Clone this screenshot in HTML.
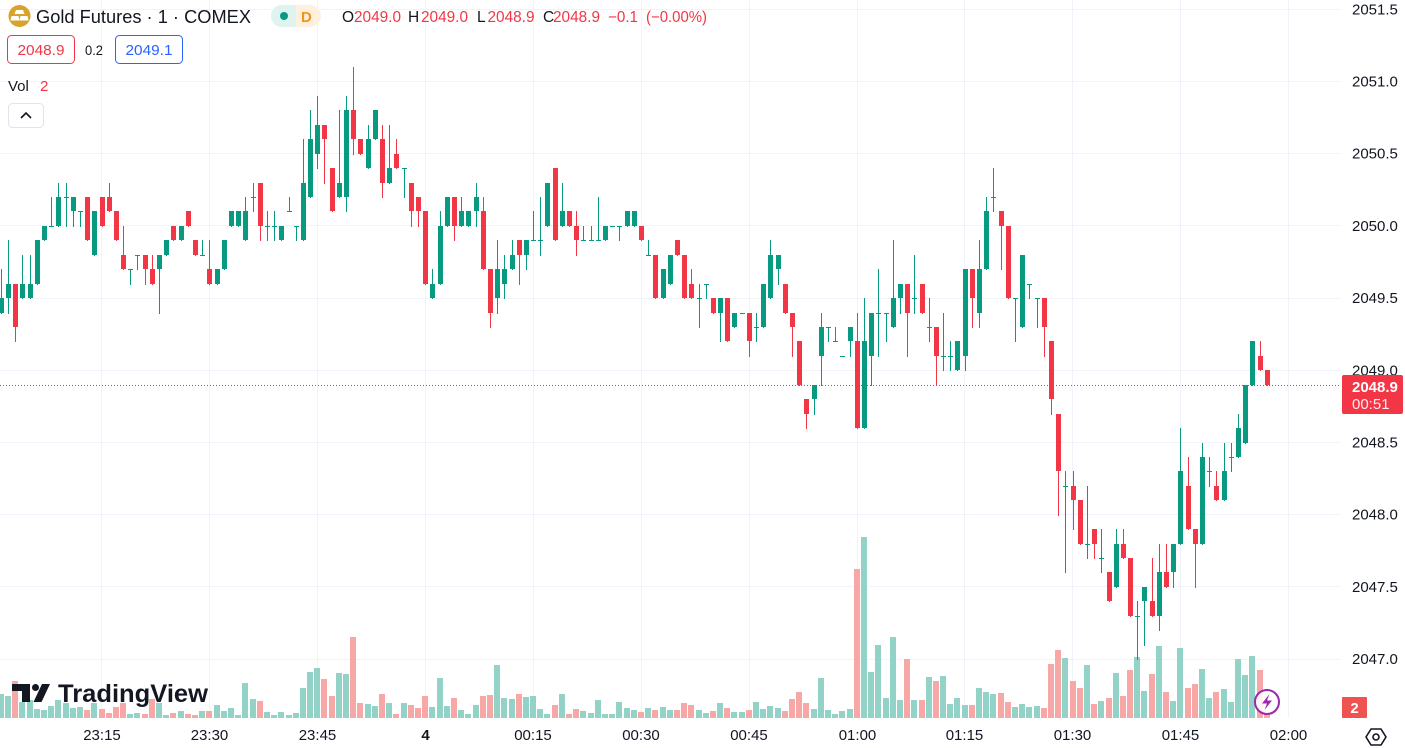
<!DOCTYPE html>
<html>
<head>
<meta charset="utf-8">
<style>
  html,body{margin:0;padding:0;background:#fff;}
  body{width:1405px;height:748px;overflow:hidden;}
  svg{display:block;font-family:"Liberation Sans",sans-serif;}
  .ax{font-size:15px;fill:#131722;}
  .tm{font-size:15px;fill:#131722;text-anchor:middle;}
</style>
</head>
<body>
<svg id="chart" width="1405" height="748" viewBox="0 0 1405 748" xmlns="http://www.w3.org/2000/svg">
  <rect x="0" y="0" width="1405" height="748" fill="#ffffff"/>
  <!-- horizontal grid -->
  <g stroke="#f0f3fa" stroke-width="1">
    <line x1="0" y1="9.5" x2="1341" y2="9.5"/>
    <line x1="0" y1="81.5" x2="1341" y2="81.5"/>
    <line x1="0" y1="153.5" x2="1341" y2="153.5"/>
    <line x1="0" y1="225.5" x2="1341" y2="225.5"/>
    <line x1="0" y1="298.5" x2="1341" y2="298.5"/>
    <line x1="0" y1="370.5" x2="1341" y2="370.5"/>
    <line x1="0" y1="442.5" x2="1341" y2="442.5"/>
    <line x1="0" y1="514.5" x2="1341" y2="514.5"/>
    <line x1="0" y1="586.5" x2="1341" y2="586.5"/>
    <line x1="0" y1="659.5" x2="1341" y2="659.5"/>
  </g>
  <!-- vertical grid -->
  <g stroke="#f0f3fa" stroke-width="1">
    <line x1="101.5" y1="0" x2="101.5" y2="718"/>
    <line x1="209.5" y1="0" x2="209.5" y2="718"/>
    <line x1="317.5" y1="0" x2="317.5" y2="718"/>
    <line x1="425.5" y1="0" x2="425.5" y2="718"/>
    <line x1="533.5" y1="0" x2="533.5" y2="718"/>
    <line x1="641.5" y1="0" x2="641.5" y2="718"/>
    <line x1="749.5" y1="0" x2="749.5" y2="718"/>
    <line x1="857.5" y1="0" x2="857.5" y2="718"/>
    <line x1="964.5" y1="0" x2="964.5" y2="718"/>
    <line x1="1072.5" y1="0" x2="1072.5" y2="718"/>
    <line x1="1180.5" y1="0" x2="1180.5" y2="718"/>
    <line x1="1288.5" y1="0" x2="1288.5" y2="718"/>
  </g>

  <g id="vol"></g>
  <g id="cdl"></g>

  <!-- current price dotted line -->
  <line x1="0" y1="385.5" x2="1341" y2="385.5" stroke="#f23645" stroke-width="1" stroke-dasharray="1,2"/>

  <!-- header -->
  <circle cx="19.5" cy="16" r="11" fill="#d9a32b"/>
  <g fill="#ffffff">
    <polygon points="16,10 23,10 24.5,14 14.5,14"/>
    <polygon points="11.5,16 18.5,16 19.5,20.5 10.5,20.5"/>
    <polygon points="20.5,16 27.5,16 28.5,20.5 19.5,20.5"/>
  </g>
  <text x="36" y="23" font-size="18.5" fill="#131722" textLength="215" lengthAdjust="spacingAndGlyphs">Gold Futures · 1 · COMEX</text>

  <rect x="271" y="5" width="50" height="22" rx="11" fill="#fdf0dc"/>
  <path d="M282,5 H296 V27 H282 A11,11 0 0 1 282,5 Z" fill="#dff3ef"/>
  <circle cx="284" cy="16" r="4" fill="#089981"/>
  <text x="301" y="22" font-size="15" font-weight="bold" fill="#f5921b">D</text>

  <g font-size="15.5">
    <text x="342" y="22" fill="#131722">O</text>
    <text x="354" y="22" fill="#f23645" textLength="47" lengthAdjust="spacingAndGlyphs">2049.0</text>
    <text x="408" y="22" fill="#131722">H</text>
    <text x="421" y="22" fill="#f23645" textLength="47" lengthAdjust="spacingAndGlyphs">2049.0</text>
    <text x="477" y="22" fill="#131722">L</text>
    <text x="487.5" y="22" fill="#f23645" textLength="47" lengthAdjust="spacingAndGlyphs">2048.9</text>
    <text x="543" y="22" fill="#131722">C</text>
    <text x="553" y="22" fill="#f23645" textLength="47" lengthAdjust="spacingAndGlyphs">2048.9</text>
    <text x="608" y="22" fill="#f23645" textLength="30" lengthAdjust="spacingAndGlyphs">−0.1</text>
    <text x="646" y="22" fill="#f23645" textLength="61" lengthAdjust="spacingAndGlyphs">(−0.00%)</text>
  </g>

  <rect x="7.5" y="35.5" width="67" height="28" rx="4" fill="#ffffff" stroke="#f23645" stroke-width="1"/>
  <text x="41" y="55" font-size="15" fill="#f23645" text-anchor="middle" textLength="47" lengthAdjust="spacingAndGlyphs">2048.9</text>
  <text x="85" y="55" font-size="14" fill="#131722" textLength="18" lengthAdjust="spacingAndGlyphs">0.2</text>
  <rect x="115.5" y="35.5" width="67" height="28" rx="4" fill="#ffffff" stroke="#2962ff" stroke-width="1"/>
  <text x="149" y="55" font-size="15" fill="#2962ff" text-anchor="middle" textLength="47" lengthAdjust="spacingAndGlyphs">2049.1</text>

  <text x="8" y="91" font-size="15" fill="#131722">Vol</text>
  <text x="40" y="91" font-size="15" fill="#f23645">2</text>

  <rect x="8.5" y="103.5" width="35" height="24" rx="4" fill="#ffffff" stroke="#e0e3eb" stroke-width="1"/>
  <polyline points="21,118 26,113 31,118" fill="none" stroke="#131722" stroke-width="1.6"/>

  <!-- TradingView logo -->
  <g fill="#131722">
    <polygon points="12,684 30,684 30,702 22,702 22,691 12,691"/>
    <circle cx="35.5" cy="687.5" r="3.5"/>
    <polygon points="33.5,702 41.5,702 50,684 42,684"/>
  </g>
  <text x="58" y="702" font-size="25" font-weight="bold" fill="#131722" textLength="150" lengthAdjust="spacingAndGlyphs">TradingView</text>

  <!-- lightning icon -->
  <circle cx="1267" cy="702" r="12" fill="#ffffff" fill-opacity="0.85" stroke="#9c27b0" stroke-width="2"/>
  <polygon points="1269.5,694 1262,703.5 1267,703.5 1264.5,710 1272,700.5 1267,700.5" fill="#9c27b0"/>

  <!-- price axis labels -->
  <g class="ax">
    <text x="1352" y="14.5">2051.5</text>
    <text x="1352" y="86.5">2051.0</text>
    <text x="1352" y="158.5">2050.5</text>
    <text x="1352" y="231">2050.0</text>
    <text x="1352" y="303">2049.5</text>
    <text x="1352" y="375.5">2049.0</text>
    <text x="1352" y="447.5">2048.5</text>
    <text x="1352" y="519.5">2048.0</text>
    <text x="1352" y="592">2047.5</text>
    <text x="1352" y="664">2047.0</text>
  </g>

  <!-- current price label -->
  <rect x="1342" y="375" width="61" height="39" rx="2" fill="#f23645"/>
  <text x="1352" y="392" font-size="15" font-weight="bold" fill="#ffffff">2048.9</text>
  <text x="1352" y="409" font-size="15" fill="#ffffff" fill-opacity="0.9">00:51</text>

  <!-- volume label -->
  <rect x="1342" y="697" width="25" height="21" rx="1" fill="#ef5350"/>
  <text x="1354.5" y="713" font-size="15" font-weight="bold" fill="#ffffff" text-anchor="middle">2</text>

  <!-- time axis -->
  <g class="tm">
    <text x="102" y="740">23:15</text>
    <text x="209.5" y="740">23:30</text>
    <text x="317.5" y="740">23:45</text>
    <text x="425.5" y="740" font-weight="bold">4</text>
    <text x="533" y="740">00:15</text>
    <text x="641" y="740">00:30</text>
    <text x="749" y="740">00:45</text>
    <text x="857.5" y="740">01:00</text>
    <text x="964.5" y="740">01:15</text>
    <text x="1072.5" y="740">01:30</text>
    <text x="1180.5" y="740">01:45</text>
    <text x="1288.5" y="740">02:00</text>
  </g>

  <!-- settings icon -->
  <polygon points="1371,729 1381,729 1386,737 1381,745 1371,745 1366,737" fill="none" stroke="#131722" stroke-width="1.6" stroke-linejoin="round"/>
  <circle cx="1376" cy="737" r="3" fill="none" stroke="#131722" stroke-width="1.6"/>
</svg>

<script>
(function(){
var D=[
[4,5,7,4],[5,6,9,4],[6,3,6,2],[5,6,8,5],[5,6,8,5],[6,9],[9,10],[10,10,12,10],[10,12,13,10],[12,12,13,10],
[11,12,12,10],[11,11,11,10],[12,9],[8,11],[12,10],[12,11,13],[11,9],[8,7,10,7],[7,7,7,6],[8,8,8,7],
[8,7,8,6],[7,6,8,6],[7,8,8,4],[8,9],[10,9],[9,10],[11,10],[9,8],[8,8,9,8],[7,6,9,6],
[6,7],[7,9],[10,11],[10,11],[9,11,12,9],[12,12,13,11],[13,10,13,9],[10,10,11,9],[10,10,11,9],[9,10],
[11,11,12,11],[10,10,10,9],[9,13,16,9],[12,16,18,12],[15,17,19,14],[17,16,17,13],[14,11],[12,13,18,12],[12,18,19,11],[18,16,21,15],
[16,15],[14,16,17,14],[16,18],[16,13,17,12],[13,14,17,13],[15,14,16,14],[14,14,14,12],[13,11,13,10],[12,11,12,10],[11,6],
[5,6,7,5],[6,10,11,6],[10,12],[12,10,12,9],[10,11,12,10],[10,11],[11,12,13,10],[11,7,12,7],[7,4,7,3],[5,7,9,4],
[6,7,8,5],[7,8,9,7],[9,8,9,6],[8,9,9,7],[9,9,11,9],[9,9,12,8],[10,13],[14,9],[10,11,13,10],[11,10],
[10,9,11,8],[9,9,10,9],[9,9,10,9],[9,9,12,9],[9,10],[10,10],[10,10,10,9],[10,11],[10,11],[10,9],
[8,8,9,8],[8,5],[5,7],[6,8],[9,8],[8,5],[6,5,7,5],[5,5,6,3],[6,6,6,5],[5,4],
[4,5,5,2],[5,2],[3,4],[4,4],[4,2,4,1],[3,3,4,2],[3,6],[5,8,9,5],[7,8,8,6],[6,4],
[4,3,4,1],[2,-1],[-2,-3,-2,-4],[-2,-1,-1,-3],[1,3,4,-1],[3,3,3,2],[2,2,3,2],[1,1],[2,3,3,1],[2,-4,4,-4],
[-4,2,5,-4],[1,4,4,-1],[4,4,7,1],[4,4,4,2],[3,5,9,3],[5,6,6,4],[6,4,6,1],[5,5,8,4],[6,4],[3,3,5,2],
[3,1,3,-1],[1,1,4,0],[1,1,2,0],[0,2],[1,7,7,0],[7,5,7,3],[4,7,9,3],[7,11,12,7],[12,12,14,11],[11,10,11,7],
[10,5],[5,5,5,2],[3,8],[6,6,6,5],[5,5,5,3],[5,3,5,1],[2,-2,2,-3],[-3,-7,-3,-10],[-8,-8,-7,-14],[-8,-9,-7,-11],
[-9,-12],[-12,-12,-8,-13],[-11,-12,-11,-13],[-13,-13,-11,-14],[-14,-16],[-15,-12,-11,-15],[-12,-13,-11,-13],[-13,-17],[-17,-17,-16,-20],[-16,-15,-15,-19],
[-16,-17,-13,-17],[-17,-14,-12,-18],[-14,-15,-12,-15],[-14,-12,-12,-15],[-12,-7,-4,-12],[-8,-11,-6,-11],[-11,-12,-11,-15],[-12,-6,-5,-12],[-7,-7,-6,-8],[-8,-9,-7,-9],
[-9,-7,-5,-9],[-6,-6,-5,-7],[-6,-4,-3,-6],[-5,-1],[-1,2],[1,0,2,0],[0,-1]
];
var V=[24,22,37,16,18,9,8,12,18,15,
10,11,8,15,9,5,11,15,4,5,
4,19,15,3,5,7,4,3,7,7,
13,7,10,3,35,19,17,6,3,6,
3,5,30,46,50,39,22,45,44,81,
15,14,12,24,15,4,15,13,10,22,
11,40,12,20,8,4,13,22,23,53,
20,19,24,21,22,9,4,13,24,4,
9,7,5,18,4,4,16,10,8,6,
10,8,11,8,8,15,13,8,5,7,
15,10,6,6,8,16,9,12,10,7,
19,26,15,9,40,8,4,7,9,149,
181,46,73,20,81,18,59,18,18,41,
37,42,14,20,13,13,30,26,24,25,
16,11,14,11,12,10,54,68,60,37,
30,53,14,17,20,45,22,48,61,27,
44,72,26,17,70,30,34,49,20,26,
29,16,59,43,62,48,5];
var G='#089981',R='#f23645',GV='#92d2c7',RV='#f7a8a6';
function Y(t){return 370.3-14.44*t;}
var sv='',sc='';
for(var i=0;i<D.length;i++){
  var d=D[i],o=d[0],c=d[1];
  var h=d.length>2?d[2]:Math.max(o,c);
  var l=d.length>3?d[3]:Math.min(o,c);
  h=Math.max(h,o,c); l=Math.min(l,o,c);
  var up=c>=o, col=up?G:R;
  var xc=Math.round(0.8+7.193*i);
  var yt=Math.round(Y(Math.max(o,c))), yb=Math.round(Y(Math.min(o,c)));
  var bh=Math.max(1,yb-yt);
  var yh=Math.round(Y(h)), yl=Math.round(Y(l));
  if(yl-yh>0) sc+='<rect x="'+xc+'" y="'+yh+'" width="1" height="'+(yl-yh+1)+'" fill="'+col+'"/>';
  sc+='<rect x="'+(xc-2)+'" y="'+yt+'" width="5" height="'+bh+'" fill="'+col+'"/>';
  var v=V[i]||0;
  if(v>0) sv+='<rect x="'+(xc-3)+'" y="'+(718-v)+'" width="6" height="'+v+'" fill="'+(up?GV:RV)+'"/>';
}
document.getElementById('vol').innerHTML=sv;
document.getElementById('cdl').innerHTML=sc;
})();
</script>
</body>
</html>
